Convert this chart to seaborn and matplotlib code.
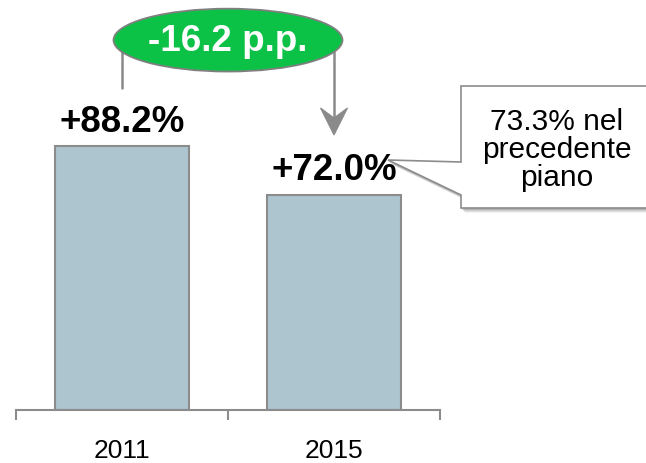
import numpy as np
import pandas as pd
import matplotlib
matplotlib.use("Agg")
import matplotlib.pyplot as plt
from matplotlib.patches import Ellipse, Polygon
from matplotlib.transforms import ScaledTranslation
import seaborn as sns

# data
years = ["2011", "2015"]
growth = [88.2, 72.0]
bar_labels = ["+88.2%", "+72.0%"]
delta_label = "-16.2 p.p."
callout_label = "73.3% nel\nprecedente\npiano"

sns.set_theme(style="white")
plt.rcParams["font.family"] = ["Liberation Sans", "DejaVu Sans"]

W, H = 646, 463
fig = plt.figure(figsize=(W / 100, H / 100), dpi=100)
# axes spans the category band 16..440 px, baseline at 410 px
ax = fig.add_axes([16 / W, 1 - 410 / H, 424 / W, 410 / H])

df = pd.DataFrame({"year": years, "growth": growth})
sns.barplot(data=df, x="year", y="growth", ax=ax, color="#adc5cf",
            saturation=1, width=0.63, edgecolor="#8c8c8c", linewidth=1.5)

ax.set_xlim(-0.5, 1.5)
ax.set_ylim(0, 137)
ax.set_xlabel("")
ax.set_ylabel("")
ax.set_yticks([])
for s in ["top", "left", "right"]:
    ax.spines[s].set_visible(False)
ax.spines["bottom"].set_color("#8c8c8c")
ax.spines["bottom"].set_linewidth(1.5)

ax.set_xticks(range(len(years)), years)
ax.set_xticks([-0.5, 0.5, 1.5], minor=True)
ax.tick_params(axis="x", which="major", length=0, pad=21, labelsize=19,
               labelcolor="black")
ax.tick_params(axis="x", which="minor", length=7, width=1.5, color="#8c8c8c",
               direction="out", bottom=True)

# value labels
for i, (v, lab) in enumerate(zip(growth, bar_labels)):
    ax.text(i, v + 4.7, lab, ha="center", va="baseline", fontsize=26.5,
            fontweight="bold", color="black")

# connector from first bar to the ellipse, arrow down to second bar
line_c = "#8a8a8a"
tip_y = 91.9
ax.plot([0, 0], [107.6, 119.6], color=line_c, lw=1.8, clip_on=False)
ax.plot([1, 1], [tip_y + 5, 119.6], color=line_c, lw=1.8, clip_on=False)
head_tr = fig.dpi_scale_trans + ScaledTranslation(1, tip_y, ax.transData)
ax.add_patch(Polygon([(0, 0), (-0.135, 0.27), (0, 0.17), (0.135, 0.27)],
                     closed=True, facecolor=line_c, edgecolor=line_c, lw=0.8,
                     transform=head_tr, clip_on=False))
ax.add_patch(Ellipse((0.5, 123.6), 1.08, 21.0, facecolor="#0bc247",
                     edgecolor="#7f7f7f", lw=1.3, clip_on=False, zorder=5))
ax.text(0.5, 123.0, delta_label, ha="center", va="center", fontsize=26.5,
        fontweight="bold", color="white", zorder=6)

# callout box with pointer (figure pixel coords)
def px(pts, dx=0, dy=0):
    return [((x + dx) / W, 1 - (y + dy) / H) for x, y in pts]

shape = [(461, 86), (652, 86), (652, 208), (461, 208), (461, 195),
         (388, 160), (461, 162)]
for k, a in [(5, 0.08), (4, 0.12), (3, 0.16), (2, 0.2)]:
    fig.patches.append(Polygon(px(shape, k - 1, k), closed=True,
                               facecolor="#606060", edgecolor="none", alpha=a,
                               transform=fig.transFigure))
fig.patches.append(Polygon(px(shape), closed=True, facecolor="white",
                           edgecolor="#8c8c8c", lw=1.2,
                           transform=fig.transFigure))
fig.text(557 / W, 1 - 150 / H, callout_label, ha="center", va="center",
         fontsize=21.5, color="black", linespacing=1.0)

fig.savefig("out.png", dpi=100)
